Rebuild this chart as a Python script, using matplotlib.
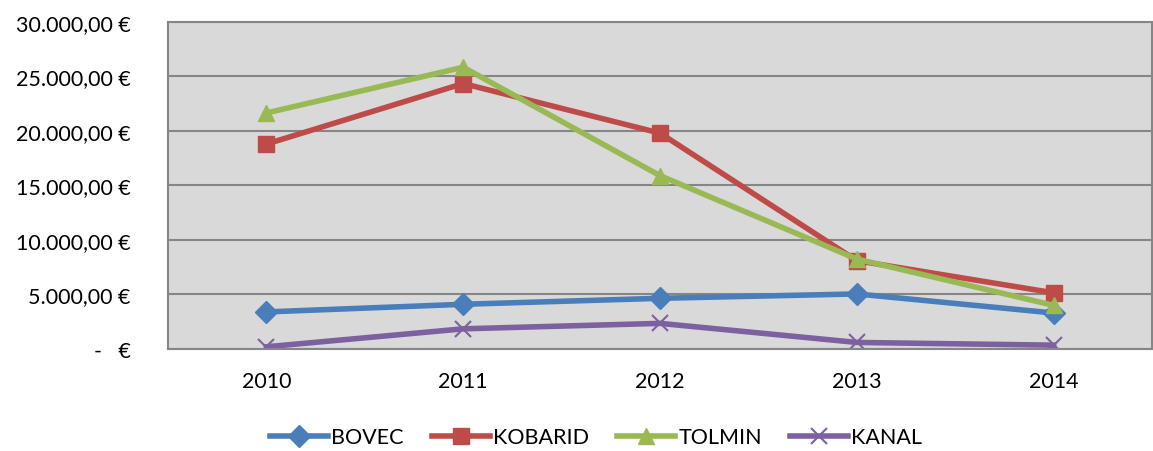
import matplotlib
matplotlib.use("Agg")
import matplotlib.pyplot as plt
from matplotlib.ticker import FuncFormatter

plt.rcParams['font.family'] = ['Lato', 'DejaVu Sans']

years = ['2010', '2011', '2012', '2013', '2014']
bovec = [3400, 4100, 4650, 5050, 3300]
kobarid = [18800, 24350, 19800, 8100, 5150]
tolmin = [21650, 25850, 15900, 8250, 4000]
kanal = [200, 1850, 2350, 600, 350]

series = [
    ('BOVEC', bovec, '#4A7EBB', 'D', 11),
    ('KOBARID', kobarid, '#BE4B48', 's', 11),
    ('TOLMIN', tolmin, '#98B954', '^', 12),
    ('KANAL', kanal, '#7D60A0', 'x', 11),
]

def euro(v, pos):
    if v == 0:
        return '-   €'
    s = f'{v:,.2f}'.replace(',', ' ').replace('.', ',').replace(' ', '.')
    return s + ' €'

fig = plt.figure(figsize=(11.53, 4.52), dpi=100)
ax = fig.add_axes([0.1457, 0.2257, 0.8535, 0.7235])
ax.set_facecolor('#D9D9D9')

x = list(range(len(years)))
for name, vals, col, mk, ms in series:
    if mk == 'x':
        ax.plot(x, vals, color=col, lw=4, marker=mk, ms=ms, mew=1.5, label=name)
    else:
        ax.plot(x, vals, color=col, lw=4, marker=mk, ms=ms, mec=col, label=name)

ax.set_xlim(-0.5, len(years) - 0.5)
ax.set_ylim(0, 30000)
ax.set_yticks(range(0, 30001, 5000))
ax.yaxis.set_major_formatter(FuncFormatter(euro))
ax.set_xticks(x)
ax.set_xticklabels(years)
ax.grid(axis='y', color='#868686', lw=1.5)
ax.set_axisbelow(True)
for sp in ax.spines.values():
    sp.set_color('#868686')
    sp.set_linewidth(1.5)
ax.tick_params(axis='both', length=0, labelsize=15.5, colors='black')
ax.tick_params(axis='y', pad=27)
ax.tick_params(axis='x', pad=16)

fig.legend(loc='lower center', bbox_to_anchor=(0.517, -0.035), ncol=4, frameon=False,
           fontsize=15.5, handlelength=2.7, columnspacing=1.3, handletextpad=0.15)

fig.savefig('out.png', dpi=100)
